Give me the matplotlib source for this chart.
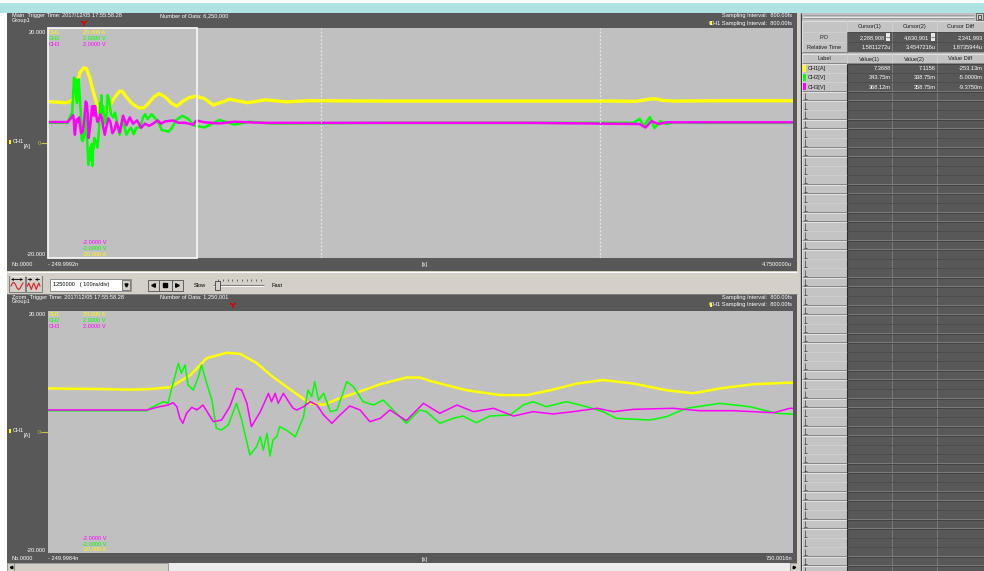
import numpy as np
import matplotlib
matplotlib.use('Agg')
import matplotlib.pyplot as plt
from matplotlib.patches import Rectangle
from matplotlib import font_manager

# ---------------- data (time in microseconds from trigger) ----------------
ch1_t = [-0.25, -0.18, -0.14, -0.113, -0.086, -0.059, -0.037, -0.010, 0.008, 0.030,
         0.052, 0.079, 0.102, 0.120, 0.142, 0.169, 0.196, 0.231, 0.249, 0.267,
         0.312, 0.357, 0.393, 0.424, 0.460, 0.495, 0.536, 0.580, 0.616, 0.652,
         0.697, 0.746, 0.80, 0.86, 0.97, 1.09, 1.21, 1.35, 1.50, 2.00,
         2.50, 3.00, 3.50, 3.70, 3.78, 3.82, 3.88, 3.95, 4.30, 4.75]
ch1_a = [7.2, 7.1, 7.0, 7.1, 7.4, 9.4, 12.2, 13.1, 12.9, 11.4,
         9.1, 6.7, 4.7, 4.5, 5.6, 6.7, 7.9, 9.0, 9.0, 8.3,
         6.9, 6.1, 6.1, 6.9, 8.0, 8.6, 8.0, 6.9, 6.4, 7.2,
         7.9, 8.15, 7.7, 6.6, 7.6, 7.0, 7.5, 7.15, 7.35, 7.3,
         7.3, 7.3, 7.3, 7.25, 7.6, 7.7, 7.4, 7.3, 7.35, 7.35]

ch2_t = [-0.25, -0.117, -0.113, -0.095, -0.089, -0.084, -0.075, -0.071, -0.066, -0.062,
         -0.055, -0.048, -0.044, -0.037, -0.030, -0.024, -0.017, -0.008, 0.003, 0.010,
         0.021, 0.030, 0.035, 0.039, 0.044, 0.048, 0.052, 0.057, 0.061, 0.070,
         0.082, 0.093, 0.099, 0.104, 0.108, 0.113, 0.120, 0.129, 0.138, 0.151,
         0.160, 0.173, 0.187, 0.200, 0.209, 0.231, 0.249, 0.258, 0.276, 0.294,
         0.307, 0.325, 0.343, 0.370, 0.388, 0.401, 0.419, 0.446, 0.473, 0.495,
         0.513, 0.558, 0.580, 0.607, 0.652, 0.692, 0.728, 0.746, 0.80, 0.90,
         1.00, 1.10, 1.25, 2.00, 3.00, 3.68, 3.72, 3.75, 3.79, 3.82,
         3.86, 3.90, 3.95, 4.10, 4.75]
ch2_v = [0.352, 0.352, 0.392, 0.501, 0.474, 0.722, 1.136, 0.970, 1.107, 0.777,
         0.694, 0.914, 1.107, 0.805, 0.529, 0.061, 0.033, 0.116, 0.474, 0.198,
         -0.380, -0.243, -0.078, -0.298, -0.021, -0.397, -0.132, -0.078, 0.088, 0.033,
         -0.078, 0.253, 0.694, 0.583, 0.831, 0.529, 0.640, 0.336, 0.364, 0.831,
         0.749, 0.501, 0.446, 0.529, 0.418, 0.144, 0.364, 0.336, 0.144, 0.226,
         0.264, 0.154, 0.264, 0.281, 0.446, 0.501, 0.418, 0.501, 0.418, 0.336,
         0.226, 0.198, 0.253, 0.392, 0.474, 0.418, 0.309, 0.298, 0.27, 0.40,
         0.32, 0.37, 0.34, 0.35, 0.35, 0.35, 0.42, 0.30, 0.45, 0.26,
         0.38, 0.33, 0.36, 0.35, 0.35]

ch3_t = [-0.25, -0.117, -0.104, -0.089, -0.082, -0.077, -0.073, -0.069, -0.064, -0.057,
         -0.050, -0.042, -0.035, -0.028, -0.017, -0.006, 0.003, 0.010, 0.017, 0.023,
         0.035, 0.039, 0.046, 0.050, 0.055, 0.059, 0.066, 0.073, 0.079, 0.084,
         0.093, 0.102, 0.111, 0.120, 0.131, 0.142, 0.155, 0.169, 0.182, 0.196,
         0.209, 0.231, 0.254, 0.276, 0.299, 0.321, 0.348, 0.375, 0.401, 0.428,
         0.455, 0.487, 0.509, 0.536, 0.589, 0.625, 0.670, 0.724, 0.746, 0.80,
         0.90, 1.00, 1.20, 2.00, 3.00, 3.72, 3.76, 3.80, 3.85, 3.90, 4.75]
ch3_v = [0.364, 0.364, 0.408, 0.446, 0.484, 0.418, 0.226, 0.144, 0.309, 0.408,
         0.364, 0.446, 0.309, 0.170, 0.198, 0.418, 0.722, 0.694, 0.474, 0.088,
         0.336, 0.446, 0.640, 0.501, 0.640, 0.474, 0.640, 0.501, 0.392, 0.364,
         0.418, 0.501, 0.446, 0.281, 0.144, 0.281, 0.430, 0.364, 0.170, 0.226,
         0.364, 0.187, 0.474, 0.309, 0.446, 0.336, 0.392, 0.264, 0.336, 0.298,
         0.336, 0.392, 0.336, 0.375, 0.392, 0.352, 0.352, 0.319, 0.392, 0.36,
         0.34, 0.37, 0.35, 0.35, 0.35, 0.33, 0.27, 0.38, 0.33, 0.36, 0.36]

main_range = [-0.2499992, 4.75]
zoom_range = [-0.2499984, 0.7500016]
ch1_fullscale = 20.0
ch23_fullscale = 2.0
cursor_times = [1.5811272, 3.4547216]

cursor_cols = ['Cursor(1)', 'Cursor(2)', 'Cursor Diff']
po_vals = ['2,288,908', '4,630,901', '2,341,993']
rel_vals = ['1.5811272u', '3.4547216u', '1.8735944u']
value_cols = ['Value(1)', 'Value(2)', 'Value Diff']
ch_labels = ['CH1[A]', 'CH2[V]', 'CH3[V]']
ch_val1 = ['7.3688', '343.75m', '368.12m']
ch_val2 = ['7.1156', '338.75m', '358.75m']
ch_diff = ['-253.13m', '-5.0000m', '-9.3750m']

# ---------------- style ----------------
names = {f.name for f in font_manager.fontManager.ttflist}
if 'Liberation Sans Narrow' in names:
    FAM, FS = 'Liberation Sans Narrow', 4.7
else:
    FAM, FS = 'Liberation Sans', 4.1

DARK = '#585858'
PLOT = '#c0c0c0'
FACE = '#d4d0c8'
YEL, GRN, MAG = '#ffff00', '#00ff00', '#ff00ff'
OLIVE = '#c8c840'
CH_COLORS = [YEL, GRN, MAG]

W, H = 984, 571
fig = plt.figure(figsize=(W / 100, H / 100), dpi=100)
fig.patch.set_facecolor('white')
bg = fig.add_axes([0, 0, 1, 1])
bg.set_xlim(0, W)
bg.set_ylim(H, 0)
bg.axis('off')


def box(x0, y0, x1, y1, fc, ec='none', lw=0.7, z=1):
    bg.add_patch(Rectangle((x0, y0), x1 - x0, y1 - y0, facecolor=fc,
                           edgecolor=ec, linewidth=lw, zorder=z))


def hline(x0, x1, y, c, lw=0.7, z=2):
    bg.plot([x0, x1], [y, y], color=c, lw=lw, zorder=z, solid_capstyle='butt')


def vline(x, y0, y1, c, lw=0.7, z=2):
    bg.plot([x, x], [y0, y1], color=c, lw=lw, zorder=z, solid_capstyle='butt')


def txt(x, y, s, c='white', ha='left', va='center', fs=None):
    fig.text(x / W, 1 - y / H, s, color=c, ha=ha, va=va,
             fontsize=fs or FS, family=FAM)


# title bar
box(0, 3, W, 12.5, '#ade3e3')

# left panels
box(7, 12.5, 797, 271, DARK)
box(7, 271, 797, 294, FACE)
hline(7, 797, 271.8, 'white')
hline(7, 797, 293.5, '#808080')
box(7, 294, 797, 563, DARK)
box(7, 563, 797, 571, '#ececec')

# ---------------- plot axes ----------------
def make_ax(y0, y1, rng):
    ax = fig.add_axes([48 / W, 1 - y1 / H, 745 / W, (y1 - y0) / H])
    ax.set_facecolor(PLOT)
    ax.set_xlim(*rng)
    ax.set_ylim(-ch1_fullscale, ch1_fullscale)
    ax.set_xticks([])
    ax.set_yticks([])
    for s in ax.spines.values():
        s.set_visible(False)
    return ax


ax1 = make_ax(28, 258, main_range)
ax2 = make_ax(311, 553, zoom_range)
scale23 = ch1_fullscale / ch23_fullscale

for ax, lws in ((ax1, (2.4, 1.8, 1.8)), (ax2, (1.8, 1.1, 1.1))):
    ax.plot(ch1_t, ch1_a, color=YEL, lw=lws[0])
    ax.plot(ch2_t, np.array(ch2_v) * scale23, color=GRN, lw=lws[1])
    ax.plot(ch3_t, np.array(ch3_v) * scale23, color=MAG, lw=lws[2])

ax1.add_patch(Rectangle((zoom_range[0], -ch1_fullscale), zoom_range[1] - zoom_range[0],
                        2 * ch1_fullscale, fill=False, edgecolor='#f4f4f4', lw=1.3,
                        clip_on=False, zorder=5))
for ct in cursor_times:
    ax1.axvline(ct, color='#e8e8e8', lw=0.9, ls=(0, (1.5, 1.5)), zorder=4)

# ---------------- panel texts ----------------
def panel_texts(top, ptop, pbot, zero_y, mode, ndata, left_lbl, right_lbl, trig_x):
    txt(12, top + 3, mode + '  Trigger Time: 2017/12/05 17:55:58.28')
    txt(12, top + 8, 'Group1')
    txt(160, top + 3, 'Number of Data: ' + ndata)
    txt(792, top + 3.5, 'Sampling Interval:  800.00fs', ha='right')
    txt(792, top + 10.5, 'CH1 Sampling Interval:  800.00fs', ha='right')
    box(709.5, top + 8.5, 711.5, top + 12.5, YEL, z=3)
    bg.plot([trig_x], [top + 10.5], marker='1', ms=5, mew=1.1, color='#e00000', zorder=5)
    txt(46, ptop + 4, '20.000', ha='right')
    txt(46, pbot - 3, '-20.000', ha='right')
    txt(49, ptop + 4, 'CH1', YEL)
    txt(83, ptop + 4, '20.000 A', YEL)
    txt(49, ptop + 10, 'CH2', GRN)
    txt(83, ptop + 10, '2.0000 V', GRN)
    txt(49, ptop + 16, 'CH3', MAG)
    txt(83, ptop + 16, '2.0000 V', MAG)
    txt(82, pbot - 15, '-2.0000 V', MAG)
    txt(82, pbot - 9, '-2.0000 V', GRN)
    txt(82, pbot - 3.5, '-20.000 A', YEL)
    box(9, zero_y - 3, 11, zero_y + 1, YEL, z=3)
    txt(12.5, zero_y - 1, 'CH1')
    txt(24, zero_y + 4, '[A]')
    txt(37.5, zero_y + 0.5, '0', OLIVE)
    hline(41, 48, zero_y, OLIVE, lw=0.8)
    txt(12, pbot + 6, 'No.0000')
    txt(48, pbot + 6, left_lbl)
    txt(422, pbot + 6, '[s]')
    txt(792, pbot + 6, right_lbl, ha='right')


panel_texts(12.5, 28, 258, 143, 'Main', '6,250,000', '- 249.9992n', '4.7500000u', 84)
panel_texts(294, 311, 553, 432, 'Zoom', '1,250,001', '- 249.9984n', '750.0016n', 233)

# ---------------- toolbar ----------------
for bx0, bx1 in ((9, 25), (25.5, 41.5)):
    box(bx0, 275.5, bx1, 291.5, FACE, ec='#707070', lw=0.6)
    hline(bx0 + 0.5, bx1 - 0.5, 276.2, 'white', lw=0.6)
w1x = [11, 12.5, 14, 15.5, 17, 18.5, 20, 21.5, 23]
w1y = [286, 283, 282.5, 284.5, 288, 289.5, 288.5, 285.5, 283]
bg.plot(w1x, w1y, color='#d02020', lw=0.8, zorder=3)
bg.annotate('', xy=(23, 279.5), xytext=(11, 279.5),
            arrowprops=dict(arrowstyle='<->', lw=0.6, color='black',
                            mutation_scale=3, shrinkA=0, shrinkB=0), zorder=3)
w2x = [27.5, 28.8, 30, 31.3, 32.5, 33.8, 35, 36.3, 37.5, 38.8, 40]
w2y = [286, 283, 286, 289.5, 286, 283, 286, 289.5, 286, 283, 286]
bg.plot(w2x, w2y, color='#d02020', lw=0.8, zorder=3)
bg.annotate('', xy=(32.5, 279.5), xytext=(28, 279.5),
            arrowprops=dict(arrowstyle='->', lw=0.6, color='black', mutation_scale=3,
                            shrinkA=0, shrinkB=0), zorder=3)
bg.annotate('', xy=(35, 279.5), xytext=(39.5, 279.5),
            arrowprops=dict(arrowstyle='->', lw=0.6, color='black', mutation_scale=3,
                            shrinkA=0, shrinkB=0), zorder=3)

box(50, 279, 131, 290.5, 'white', ec='#808080', lw=0.6)
txt(53, 284.8, '1250000   ( 100ns/div)', c='black')
box(122, 280, 130.3, 289.5, FACE, ec='#505050', lw=0.5, z=2)
bg.plot([126.2], [284.8], marker='v', ms=2.2, color='black', zorder=4)

for (bx0, bx1), mk in zip(((147.5, 158.5), (158.5, 171.5), (171.5, 182.5)), ('<', 's', '>')):
    box(bx0, 279.5, bx1, 290.5, FACE, ec='#505050', lw=0.6)
    bg.plot([(bx0 + bx1) / 2], [285], marker=mk, ms=2.6, color='black', zorder=4)

txt(194, 285.3, 'Slow', c='black')
hline(213, 264, 285, '#808080', lw=0.8)
hline(213, 264, 285.9, 'white', lw=0.6)
for tx in np.linspace(218, 261, 10):
    vline(tx, 279.3, 280.8, '#303030', lw=0.5)
box(214.5, 280.5, 219.5, 290, FACE, ec='#404040', lw=0.6, z=3)
txt(272, 285.3, 'Fast', c='black')

# bottom scrollbar
box(7, 563, 14, 571, FACE, ec='#808080', lw=0.5)
bg.plot([10.5], [567], marker='<', ms=1.8, color='black', zorder=4)
box(14, 563, 168, 571, FACE, ec='#808080', lw=0.5)
box(790, 563, 797, 571, FACE, ec='#808080', lw=0.5)
bg.plot([793.5], [567], marker='>', ms=1.8, color='black', zorder=4)

# ---------------- right panel ----------------
box(797, 12.5, 800, 571, FACE)
box(800, 12.5, 984, 571, '#c0c0c0')
vline(800.5, 12.5, 571, '#404040', lw=0.8)
for yy, cc in ((14.5, 'white'), (15.3, '#808080'), (17.3, 'white'), (18.1, '#808080')):
    hline(803, 974, yy, cc, lw=0.5)
box(975.5, 13.2, 983, 20, FACE, ec='#404040', lw=0.5)
box(977.5, 15, 981, 18.5, 'none', ec='#202020', lw=0.5, z=3)

cols = [802, 847, 892, 937, 986]
TXT_DARK = '#1a1a1a'


def light_cell(x0, y0, x1, y1):
    box(x0, y0, x1, y1, '#c4c4c4', ec='none')
    hline(x0, x1, y0 + 0.3, '#eeeeee', lw=0.5)
    vline(x0 + 0.3, y0, y1, '#eeeeee', lw=0.5)
    hline(x0, x1, y1 - 0.3, '#7c7c7c', lw=0.6)
    vline(x1 - 0.3, y0, y1, '#7c7c7c', lw=0.6)


def dark_cell(x0, y0, x1, y1):
    box(x0, y0, x1, y1, DARK, ec='none')
    hline(x0, x1, y1 - 0.3, '#8a8a8a', lw=0.5)
    vline(x1 - 0.3, y0, y1, '#8a8a8a', lw=0.5)
    hline(x0, x1, y0 + 0.3, '#3a3a3a', lw=0.5)


# header rows
light_cell(cols[0], 21, cols[1], 32)
for i, lab in enumerate(cursor_cols):
    light_cell(cols[i + 1], 21, cols[i + 2], 32)
    txt((cols[i + 1] + min(cols[i + 2], 984)) / 2, 26.8, lab, c=TXT_DARK, ha='center')

for y0, lab, vals in ((32, 'P.O', po_vals), (42, 'Relative Time', rel_vals)):
    light_cell(cols[0], y0, cols[1], y0 + 10)
    txt((cols[0] + cols[1]) / 2, y0 + 5.3, lab, c=TXT_DARK, ha='center')
    for i, v in enumerate(vals):
        dark_cell(cols[i + 1], y0, cols[i + 2], y0 + 10)
        if lab == 'P.O' and i < 2:
            txt(cols[i + 2] - 7.5, y0 + 5.3, v, ha='right')
            box(cols[i + 2] - 6.5, y0 + 1.2, cols[i + 2] - 2.5, y0 + 8.8, '#e8e8e8', z=3)
            hline(cols[i + 2] - 6.5, cols[i + 2] - 2.5, y0 + 5, '#404040', lw=0.4, z=4)
        elif i < 2:
            txt(cols[i + 2] - 1.5, y0 + 5.3, v, ha='right')
        else:
            txt(982.5, y0 + 5.3, v, ha='right')

light_cell(cols[0], 54, cols[1], 63.5)
txt((cols[0] + cols[1]) / 2, 59, 'Label', c=TXT_DARK, ha='center')
for i, lab in enumerate(value_cols):
    light_cell(cols[i + 1], 54, cols[i + 2], 63.5)
    txt((cols[i + 1] + min(cols[i + 2], 984)) / 2, 59, lab, c=TXT_DARK, ha='center')

RH = 9.3
y0 = 63.5
row = 0
while y0 < H:
    y1 = y0 + RH
    light_cell(cols[0], y0, cols[1], y1)
    for i in range(3):
        dark_cell(cols[i + 1], y0, cols[i + 2], y1)
    vline(cols[1] + 0.4, y0, y1, '#2a2a2a', lw=0.8)
    if row < 3:
        box(803, y0 + 1.3, 806, y1 - 1.3, CH_COLORS[row], z=3)
        txt(807.5, (y0 + y1) / 2 + 0.3, ch_labels[row], c=TXT_DARK)
        txt(cols[2] - 1.5, (y0 + y1) / 2 + 0.3, ch_val1[row], ha='right')
        txt(cols[3] - 1.5, (y0 + y1) / 2 + 0.3, ch_val2[row], ha='right')
        txt(982.5, (y0 + y1) / 2 + 0.3, ch_diff[row], ha='right')
    else:
        vline(804.5, y0 + 1.5, y1 - 1.5, '#f4f4f4', lw=0.6)
        vline(805.3, y0 + 1.5, y1 - 1.2, '#303030', lw=0.5)
        hline(804.2, 807, y1 - 1.3, '#303030', lw=0.5)
    y0 = y1
    row += 1

fig.savefig('out.png', dpi=100, facecolor=fig.get_facecolor())
